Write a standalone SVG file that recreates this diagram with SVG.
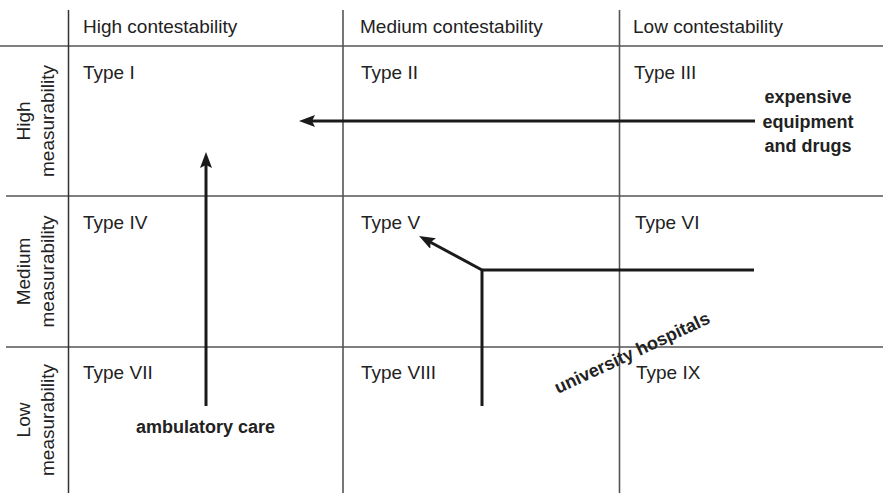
<svg xmlns="http://www.w3.org/2000/svg" width="883" height="495" viewBox="0 0 883 495">
<style>
  .grid { stroke: #555; stroke-width: 1.6; fill: none; }
  .gridv { stroke: #333; stroke-width: 1.5; fill: none; }
  .lbl { font-family: "Liberation Sans", Arial, sans-serif; font-size: 19px; fill: #222; }
  .bold { font-family: "Liberation Sans", Arial, sans-serif; font-size: 18px; font-weight: bold; fill: #222; }
  .conn { stroke: #1a1a1a; stroke-width: 3; fill: none; }
</style>
<defs>
  <marker id="ah" viewBox="0 -6 16 12" markerWidth="16" markerHeight="12" refX="4" refY="0" orient="auto" markerUnits="userSpaceOnUse">
    <path d="M0,-6 L16,0 L0,6 L3,0 z" fill="#1a1a1a"/>
  </marker>
</defs>
<rect width="883" height="495" fill="#fff"/>
<g id="grid">
  <line class="grid" x1="0" y1="46" x2="883" y2="46"/>
  <line class="grid" x1="6" y1="196" x2="883" y2="196"/>
  <line class="grid" x1="6" y1="347" x2="883" y2="347"/>
  <line class="gridv" x1="68.5" y1="10" x2="68.5" y2="493"/>
  <line class="grid" x1="343" y1="10" x2="343" y2="493"/>
  <line class="grid" x1="619.5" y1="10" x2="619.5" y2="493"/>
</g>
<g id="col-headers">
  <text class="lbl" x="83" y="33">High contestability</text>
  <text class="lbl" x="360" y="33">Medium contestability</text>
  <text class="lbl" x="633" y="33">Low contestability</text>
</g>
<g id="row-headers">
  <text class="lbl" text-anchor="middle" transform="translate(30,121) rotate(-90)">High</text>
  <text class="lbl" text-anchor="middle" transform="translate(54,121) rotate(-90)">measurability</text>
  <text class="lbl" text-anchor="middle" transform="translate(30,271.5) rotate(-90)">Medium</text>
  <text class="lbl" text-anchor="middle" transform="translate(54,271.5) rotate(-90)">measurability</text>
  <text class="lbl" text-anchor="middle" transform="translate(30,420) rotate(-90)">Low</text>
  <text class="lbl" text-anchor="middle" transform="translate(54,420) rotate(-90)">measurability</text>
</g>
<g id="type-1"><text class="lbl" x="83" y="79">Type I</text></g>
<g id="type-2"><text class="lbl" x="361" y="79">Type II</text></g>
<g id="type-3"><text class="lbl" x="634" y="79">Type III</text></g>
<g id="type-4"><text class="lbl" x="83" y="229">Type IV</text></g>
<g id="type-5"><text class="lbl" x="361" y="229">Type V</text></g>
<g id="type-6"><text class="lbl" x="635" y="229">Type VI</text></g>
<g id="type-7"><text class="lbl" x="83" y="379">Type VII</text></g>
<g id="type-8"><text class="lbl" x="361" y="379">Type VIII</text></g>
<g id="type-9"><text class="lbl" x="636" y="379">Type IX</text></g>
<g id="connectors">
  <line class="conn" x1="755" y1="121" x2="311" y2="121" marker-end="url(#ah)"/>
  <line class="conn" x1="206" y1="406" x2="206" y2="164" marker-end="url(#ah)"/>
  <path class="conn" d="M482,406 L482,270 L754,270"/>
  <line class="conn" x1="482" y1="270" x2="429.6" y2="241.7" marker-end="url(#ah)"/>
</g>
<g id="label-equipment">
  <text class="bold" text-anchor="middle" x="808" y="103">expensive</text>
  <text class="bold" text-anchor="middle" x="808" y="128">equipment</text>
  <text class="bold" text-anchor="middle" x="808" y="152">and drugs</text>
</g>
<g id="label-ambulatory">
  <text class="bold" x="136" y="433">ambulatory care</text>
</g>
<g id="label-university">
  <text class="bold" font-size="17.5" transform="translate(558,394) rotate(-25)">university hospitals</text>
</g>
</svg>
